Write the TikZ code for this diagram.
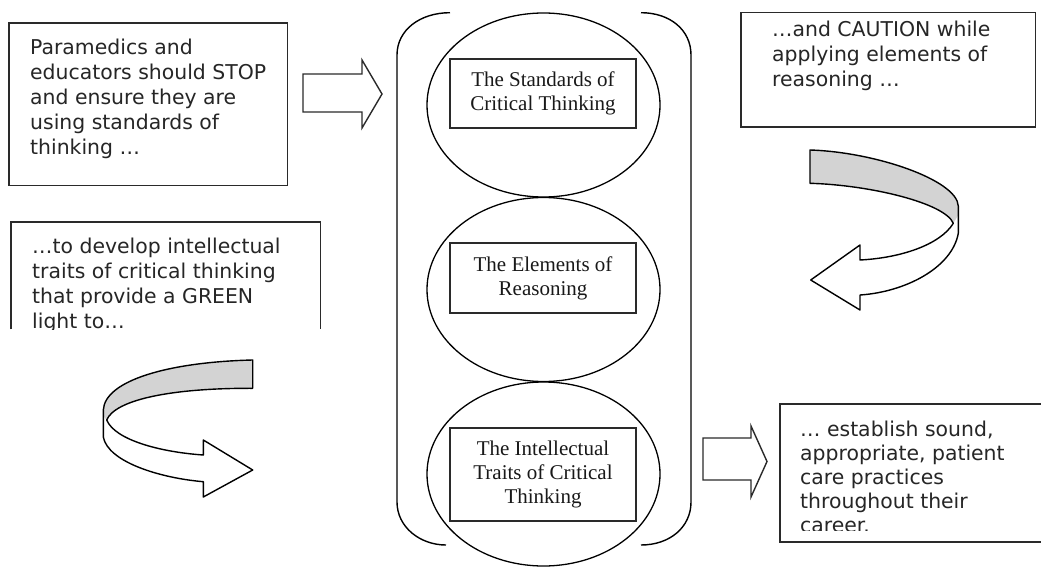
\documentclass[tikz,border=0pt]{standalone}
\usepackage{fontspec}
\setmainfont{Liberation Serif}
\newfontfamily\notefont{DejaVu Sans}
\usetikzlibrary{shapes.geometric}

\definecolor{inkline}{HTML}{2A2A2A}
\definecolor{inktext}{HTML}{262626}
\definecolor{ribbongray}{HTML}{D3D3D3}

% left-aligned block of lines whose reference point is the first baseline
\newcommand\leftstack[1]{\vtop{\halign{##\hfil\cr#1\crcr}}}

\tikzset{
  noteline/.style={draw=inkline, line width=1.6pt},
  notetext/.style={anchor=base west, inner sep=0pt, text=inktext,
    font=\notefont\fontsize{20.4}{25}\selectfont},
  area/.style={draw=none, inner sep=0pt, anchor=north west},
  ring/.style={ellipse, draw=black, line width=1.3pt, inner sep=0pt,
    minimum width=233pt, minimum height=184pt},
  label box/.style={draw=inkline, line width=1.5pt, inner sep=0pt,
    minimum width=186pt, align=center, text=black!90,
    font=\fontsize{21}{24}\selectfont},
  bracket/.style={draw=black, line width=1.4pt},
  blockarrow/.style={draw=inkline, line width=1.4pt, fill=white, line join=miter},
  ribbon/.style={draw=black, line width=1.4pt, line join=round},
}

\begin{document}
\begin{tikzpicture}[x=1pt,y=-1pt]
\fill[white] (0,0) rectangle (1041,567);
\useasboundingbox (0,0) rectangle (1041,567);

% ---------- text areas ----------
\node[area, minimum width=278pt, minimum height=162pt] (stop) at (9,23) {};
\node[area, minimum width=309pt, minimum height=107pt] (green) at (11,222) {};
\node[area, minimum width=294pt, minimum height=114pt] (caution) at (741,12.7) {};
\node[area, minimum width=270pt, minimum height=126pt] (care) at (780,404) {};

% box 1
\draw[noteline] (stop.north west) rectangle (stop.south east);
\node[notetext] (stoptext) at (30,55)
  {\leftstack{Paramedics and\cr educators should STOP\cr and ensure they are\cr
   using standards of\cr thinking …}};

% box 2 (open at the bottom, text cut off)
\draw[noteline] (green.south west) |- (green.north east) -- (green.south east);
\begin{scope}
  \clip (green.south west) rectangle (green.north east);
  \node[notetext] (greentext) at (32,253)
    {\leftstack{…to develop intellectual\cr traits of critical thinking\cr
     that provide a GREEN\cr light to…}};
\end{scope}

% box 3
\draw[noteline] (caution.north west) rectangle (caution.south east);
\node[notetext] (cautiontext) at (772,36.7)
  {\leftstack{…and CAUTION while\cr applying elements of\cr reasoning …}};

% box 4 (runs past the right edge, last line cut off)
\draw[noteline] (care.north east) -- (care.north west) -- (780,542) -- (1045,542);
\begin{scope}
  \clip (care.north west) rectangle (care.south east);
  \node[notetext, font=\notefont\fontsize{20.4}{24}\selectfont] (caretext) at (800,436.7)
    {\leftstack{… establish sound,\cr appropriate, patient\cr care practices\cr
     throughout their\cr career.}};
\end{scope}

% ---------- central column ----------
\node[ring] (ring1) at (543.5,105) {};
\node[ring] (ring2) at (543.5,289.5) {};
\node[ring] (ring3) at (543.5,474) {};

\node[label box, minimum height=69pt] (standards) at (543,93.5)
  {The Standards of\\Critical Thinking};
\node[label box, minimum height=70pt] (elements) at (543,278)
  {The Elements of\\Reasoning};
\node[label box, minimum height=93pt] (traits) at (543,474.5)
  {The Intellectual\\Traits of Critical\\Thinking};

% round brackets around the column
\draw[bracket] (450,12.7) .. controls (420,12.7) and (397,30) .. (397,55)
  -- (397,502) .. controls (397,527) and (420,545) .. (446,545);
\draw[bracket] (641,12.7) .. controls (670,12.7) and (691,30) .. (691,55)
  -- (691,502) .. controls (691,527) and (670,545) .. (641,545);

% ---------- block arrows ----------
\draw[blockarrow] (303,74) -- (362,74) -- (362,60) -- (382,94) -- (362,128)
  -- (362,112) -- (303,112) -- cycle;
\draw[blockarrow] (703,438) -- (751,438) -- (751,426) -- (767,461.5)
  -- (751,497) -- (751,480) -- (703,480) -- cycle;

% ---------- curved ribbon arrow, left ----------
\fill[white] (252.7,360) .. controls (170,362) and (105,380) .. (103.3,410)
  -- (103.3,437) .. controls (108,462) and (160,478) .. (203.3,481.7)
  -- (203.3,497) -- (252.7,470) -- (203.3,440) -- (203.3,455)
  .. controls (160,452) and (115,440) .. (106.7,420)
  .. controls (115,400) and (170,388) .. (252.7,388.3) -- cycle;
\fill[ribbongray] (252.7,360) .. controls (170,362) and (105,380) .. (103.3,410)
  -- (103.3,416) -- (106.7,420)
  .. controls (115,400) and (170,388) .. (252.7,388.3) -- cycle;
\draw[ribbon] (252.7,360) .. controls (170,362) and (105,380) .. (103.3,410)
  -- (103.3,437) .. controls (108,462) and (160,478) .. (203.3,481.7)
  -- (203.3,497) -- (252.7,470) -- (203.3,440) -- (203.3,455)
  .. controls (160,452) and (115,440) .. (106.7,420)
  .. controls (115,400) and (170,388) .. (252.7,388.3) -- cycle;

% ---------- curved ribbon arrow, right ----------
\fill[white] (810,150) .. controls (875,152) and (957,180) .. (958.3,206)
  -- (958.3,233.3) .. controls (952,268) and (905,292) .. (860,295)
  -- (860,310) -- (810.7,280) -- (860,245) -- (860,260)
  .. controls (900,258) and (940,245) .. (953.3,223.3)
  .. controls (945,203) and (870,185) .. (810,183.3) -- cycle;
\fill[ribbongray] (810,150) .. controls (875,152) and (957,180) .. (958.3,206)
  -- (958.3,215) -- (953.3,223.3)
  .. controls (945,203) and (870,185) .. (810,183.3) -- cycle;
\draw[ribbon] (810,150) .. controls (875,152) and (957,180) .. (958.3,206)
  -- (958.3,233.3) .. controls (952,268) and (905,292) .. (860,295)
  -- (860,310) -- (810.7,280) -- (860,245) -- (860,260)
  .. controls (900,258) and (940,245) .. (953.3,223.3)
  .. controls (945,203) and (870,185) .. (810,183.3) -- cycle;
\end{tikzpicture}
\end{document}
